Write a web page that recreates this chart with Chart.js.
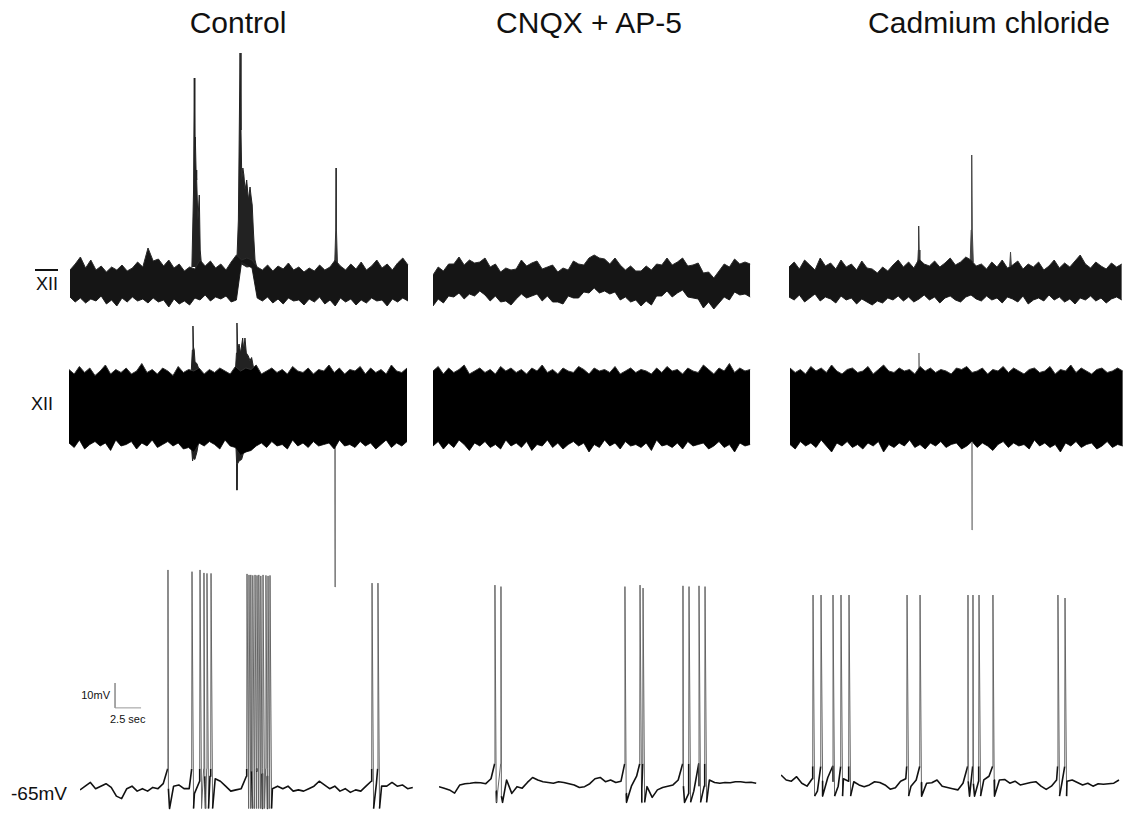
<!DOCTYPE html>
<html>
<head>
<meta charset="utf-8">
<script src="https://cdn.jsdelivr.net/npm/chart.js@4.4.1/dist/chart.umd.min.js"></script>
<style>
  body { margin: 0; width: 1124px; height: 816px; background: #fff; position: relative; overflow: hidden;
         font-family: "Liberation Sans", Arial, sans-serif; color: #111; }
  canvas { position: absolute; }
  .lbl { position: absolute; line-height: 1; white-space: nowrap; }
</style>
</head>
<body>
<div class="lbl" style="left:238px;top:7.6px;font-size:30px;transform:translateX(-50%)">Control</div>
<div class="lbl" style="left:589px;top:7.6px;font-size:30px;transform:translateX(-50%)">CNQX + AP-5</div>
<div class="lbl" style="left:989px;top:7.6px;font-size:30px;transform:translateX(-50%)">Cadmium chloride</div>
<div class="lbl" style="right:1066px;top:274.8px;font-size:18px">XII</div>
<div style="position:absolute;left:35px;top:269px;width:23px;height:1.5px;background:#111"></div>
<div class="lbl" style="right:1071px;top:394.8px;font-size:18px">XII</div>
<div class="lbl" style="right:1057px;top:784px;font-size:19px">-65mV</div>
<div class="lbl" style="right:1014px;top:689.7px;font-size:11px">10mV</div>
<div class="lbl" style="left:110px;top:713.7px;font-size:11px">2.5 sec</div>
<script>
// all traces sampled every half second (envelopes / membrane baseline)
const STEP = 0.5
const PX_PER_SEC = 10.4

// ---- integrated XII (arbitrary units, 0 = trace floor) ----
let ctlIntUp = [4.0,4.6,5.3,4.2,5.0,4.0,4.4,3.8,4.3,4.0,4.5,3.9,4.2,4.8,4.3,6.2,4.9,5.1,4.4,5.0,4.2,4.6,3.9,4.3,4.1,5.0,4.4,4.9,4.2,4.6,4.0,4.8,5.5,5.0,5.2,5.0,4.3,4.0,4.5,3.9,4.4,4.1,4.7,4.0,4.3,3.8,4.2,3.9,4.5,4.0,4.3,5.0,4.4,4.0,4.6,4.1,4.8,4.0,4.4,5.0,4.2,4.6,4.0,4.7,5.2,4.5]
let ctlIntLo = [1.3,0.8,1.2,0.7,1.1,0.9,1.4,0.6,1.0,0.4,1.2,0.8,1.3,0.9,1.1,0.7,1.2,0.8,1.0,0.3,1.1,0.6,0.9,0.5,1.2,1.0,1.5,0.9,1.3,1.1,1.4,0.8,1.0,4.8,4.5,4.2,1.2,0.9,1.3,0.7,1.1,0.6,1.2,0.9,1.0,0.5,1.1,0.8,1.3,0.6,1.0,0.4,1.2,0.8,1.1,0.5,1.0,0.7,1.2,0.9,1.0,0.4,1.1,0.8,1.2,0.9]
let ctlIntBurst1 = [[11.72,4.3],[11.88,12],[11.95,23.2],[12.0,16],[12.05,17.3],[12.12,14],[12.18,13],[12.3,9],[12.43,11.5],[12.52,6],[12.66,4.3]]
let ctlIntBurst2 = [[16.03,4.5],[16.19,9],[16.35,25.7],[16.44,18],[16.52,13],[16.62,14.2],[16.72,13.5],[16.83,12],[16.99,13],[17.15,11],[17.31,12.3],[17.42,11.3],[17.52,10.5],[17.63,8],[17.79,5],[17.95,4.3],[17.6,4.4],[17.0,4.3],[16.5,4.6],[16.2,4.4]]
let ctlIntBurst3 = [[25.45,4.5],[25.55,8],[25.58,14.2],[25.62,8],[25.72,4.5]]

let cnqIntUp = [3.5,4.3,3.9,4.6,4.6,5.3,4.5,5.0,4.7,4.8,5.2,4.3,4.6,3.8,4.2,4.0,4.1,5.0,4.4,4.7,4.9,4.1,4.3,4.5,3.8,4.2,4.0,4.9,4.6,4.5,5.2,5.5,5.2,5.1,4.6,5.2,4.5,4.0,4.4,3.9,3.9,4.4,4.0,4.6,4.5,5.2,4.5,4.8,5.2,4.4,4.5,4.7,3.7,3.8,3.2,3.9,4.6,4.3,5.1,4.6,4.8,4.6]
let cnqIntLo = [0.4,1.1,0.7,1.4,1.3,1.7,1.1,1.6,1.4,1.9,1.5,0.9,1.4,0.8,0.9,0.5,1.1,1.6,1.2,1.4,1.6,0.9,1.4,0.8,0.8,0.6,1.4,1.2,1.2,1.8,1.7,2.2,1.7,1.9,1.6,1.8,1.0,1.3,0.8,1.0,0.4,0.9,0.5,1.4,1.4,1.9,1.3,1.7,2.0,1.3,1.2,1.1,0.2,0.8,0.1,0.7,1.3,1.0,1.8,1.5,1.6,1.3]

let cdIntUp = [4.3,4.8,4.1,5.0,4.5,4.0,5.2,4.4,4.7,4.1,5.0,4.3,4.6,4.0,4.9,4.2,4.1,3.7,4.3,3.9,4.5,5.0,4.3,4.8,4.2,5.1,4.6,4.4,4.9,4.3,4.7,5.2,4.5,4.8,5.3,5.0,4.4,4.6,4.1,4.8,4.3,5.0,4.2,4.5,4.9,4.1,4.6,4.3,4.8,4.0,4.4,5.0,4.2,4.7,4.3,4.9,5.5,4.6,4.2,4.8,4.4,4.1,4.7,4.3,4.6]
let cdIntLo = [1.3,1.0,1.5,0.8,1.2,1.6,0.9,1.3,1.1,0.7,1.4,1.0,1.2,0.6,1.1,0.8,0.5,0.9,0.7,1.2,1.0,1.4,0.9,1.3,0.8,1.1,1.5,1.0,1.3,0.7,1.2,1.4,1.0,0.8,1.3,1.5,1.1,0.9,1.4,1.0,1.2,0.7,1.3,1.1,0.8,1.4,0.6,1.0,1.2,0.9,1.5,1.0,1.3,0.8,1.1,0.6,1.2,1.0,1.4,0.9,1.2,0.7,1.1,1.3,1.0]
let cdIntSpike1 = [[12.37,4.5],[12.44,6],[12.47,8.4],[12.51,6],[12.58,4.5]]
let cdIntSpike2 = [[17.42,4.8],[17.52,8],[17.57,15.5],[17.62,8],[17.72,4.8]]
let cdIntSpike3 = [[21.22,4.4],[21.3,5.8],[21.38,4.4]]

// ---- raw XII (arbitrary units, 0 = trace centre) ----
let ctlRawUp = [1.25,1.1,1.35,1.15,1.3,1.05,1.2,1.4,1.1,1.25,1.15,1.3,1.1,1.2,1.45,1.15,1.25,1.1,1.3,1.2,1.05,1.35,1.15,1.25,1.2,1.3,1.1,1.25,1.15,1.3,1.2,1.1,1.35,1.2,1.3,1.25,1.4,1.1,1.2,1.3,1.15,1.25,1.1,1.35,1.2,1.15,1.3,1.1,1.25,1.2,1.4,1.15,1.3,1.1,1.25,1.2,1.35,1.1,1.3,1.15,1.25,1.1,1.4,1.2,1.15,1.3]
let ctlRawLo = [-1.2,-1.35,-1.1,-1.4,-1.25,-1.15,-1.3,-1.2,-1.45,-1.1,-1.3,-1.25,-1.15,-1.4,-1.2,-1.3,-1.1,-1.35,-1.25,-1.15,-1.3,-1.2,-1.4,-1.35,-1.5,-1.2,-1.3,-1.15,-1.25,-1.4,-1.1,-1.3,-1.35,-1.6,-1.5,-1.45,-1.3,-1.2,-1.35,-1.15,-1.3,-1.25,-1.4,-1.1,-1.3,-1.2,-1.35,-1.15,-1.3,-1.25,-1.2,-1.4,-1.1,-1.3,-1.25,-1.35,-1.15,-1.3,-1.2,-1.4,-1.25,-1.1,-1.35,-1.2,-1.3,-1.15]
let ctlRawUp1 = [[11.75,1.15],[11.86,1.9],[11.92,2.7],[11.97,2.0],[12.04,1.9],[12.12,1.5],[12.3,1.45],[12.45,1.3],[12.55,1.1]]
let ctlRawDown1 = [[11.75,-1.2],[11.88,-1.8],[11.95,-1.7],[12.1,-1.75],[12.3,-1.5],[12.45,-1.2]]
let ctlRawUp2 = [[16.0,1.2],[16.1,1.8],[16.15,2.8],[16.22,1.9],[16.35,2.1],[16.5,1.8],[16.7,2.3],[16.8,1.9],[16.92,2.3],[17.05,1.8],[17.24,1.7],[17.4,1.55],[17.56,1.65],[17.75,1.3],[17.9,1.1]]
let ctlRawDown2 = [[16.05,-1.3],[16.12,-1.9],[16.15,-2.77],[16.2,-1.9],[16.35,-1.8],[16.6,-1.75],[16.8,-1.5],[17.0,-1.5],[17.2,-1.3]]
let ctlRawDown3 = [[25.56,-1.2],[25.58,-6.0],[25.6,-1.2]]

let cnqRawUp = [1.2,1.35,1.1,1.3,1.15,1.25,1.4,1.1,1.2,1.3,1.15,1.25,1.1,1.35,1.2,1.3,1.15,1.25,1.1,1.3,1.2,1.4,1.15,1.25,1.1,1.3,1.2,1.15,1.35,1.25,1.1,1.3,1.2,1.25,1.15,1.35,1.1,1.2,1.3,1.15,1.25,1.2,1.1,1.3,1.15,1.35,1.2,1.25,1.1,1.3,1.2,1.15,1.4,1.25,1.1,1.3,1.2,1.45,1.15,1.3,1.2,1.25]
let cnqRawLo = [-1.3,-1.15,-1.4,-1.2,-1.35,-1.1,-1.25,-1.45,-1.2,-1.3,-1.15,-1.35,-1.25,-1.4,-1.1,-1.3,-1.2,-1.35,-1.15,-1.45,-1.25,-1.3,-1.1,-1.35,-1.2,-1.4,-1.25,-1.15,-1.3,-1.2,-1.5,-1.25,-1.35,-1.1,-1.3,-1.2,-1.4,-1.15,-1.3,-1.25,-1.35,-1.2,-1.45,-1.1,-1.3,-1.25,-1.35,-1.2,-1.4,-1.15,-1.3,-1.25,-1.2,-1.4,-1.3,-1.15,-1.35,-1.25,-1.5,-1.2,-1.3,-1.25]

let cdRawUp = [1.3,1.15,1.25,1.1,1.35,1.2,1.3,1.15,1.4,1.2,1.1,1.25,1.3,1.15,1.2,1.35,1.1,1.25,1.4,1.2,1.15,1.3,1.2,1.25,1.1,1.35,1.2,1.3,1.15,1.25,1.2,1.1,1.3,1.25,1.35,1.15,1.2,1.3,1.1,1.25,1.2,1.35,1.15,1.3,1.2,1.1,1.25,1.3,1.15,1.2,1.35,1.1,1.25,1.2,1.4,1.15,1.3,1.2,1.1,1.25,1.3,1.15,1.2,1.3,1.2]
let cdRawLo = [-1.25,-1.4,-1.15,-1.3,-1.2,-1.35,-1.1,-1.3,-1.5,-1.2,-1.3,-1.15,-1.35,-1.25,-1.4,-1.2,-1.3,-1.15,-1.5,-1.25,-1.35,-1.2,-1.3,-1.1,-1.35,-1.25,-1.4,-1.2,-1.3,-1.15,-1.35,-1.25,-1.2,-1.4,-1.3,-1.15,-1.35,-1.2,-1.3,-1.45,-1.25,-1.15,-1.35,-1.2,-1.3,-1.25,-1.4,-1.1,-1.3,-1.2,-1.35,-1.25,-1.5,-1.2,-1.3,-1.15,-1.35,-1.25,-1.2,-1.4,-1.3,-1.15,-1.35,-1.25,-1.3]
let cdRawUp1 = [[12.37,1.2],[12.4,1.8],[12.43,1.2]]
let cdRawDown1 = [[17.48,-1.2],[17.5,-4.1],[17.52,-1.2]]

// ---- intracellular membrane potential (mV) ----
let ctlVm = [-63.5,-62,-60.5,-63,-62,-61,-62.5,-66,-67,-63,-62,-64,-63,-64,-62.5,-63,-61,-63,-62,-61.5,-63,-63,-65,-60,-58,-58,-59,-60,-62,-64,-63.5,-63,-58,-56,-56,-57,-58,-63,-62,-63,-62,-64,-63.5,-64,-63,-62,-60,-61.5,-63,-62,-64,-63,-64.5,-63.5,-64,-62,-60,-61,-62,-62,-60.5,-62,-61.5,-63,-62.5]
let ctlSpikes = [8.46,10.77,11.54,11.92,12.21,12.60,16.06,16.25,16.44,16.63,16.83,17.02,17.21,17.40,17.60,17.88,18.08,18.27,28.08,28.65]
let ctlPeaks = [25,24.3,25,23.8,23.6,23.6,23.4,23,23,22.8,23,22.8,23,22.6,23,22.8,22.6,22.8,19.7,19.7]
let cnqVm = [-62.2,-62.8,-63.5,-64.8,-61.5,-61,-60.8,-60.5,-60.6,-61,-59,-64,-66,-59.5,-64.9,-62.2,-62.8,-60.5,-58.5,-59.5,-60.2,-60.5,-60.8,-60.2,-60.5,-61,-61.5,-62.5,-62.2,-61,-59,-58.5,-60.2,-59.5,-60.5,-60,-65,-62,-58,-63,-62.2,-66.5,-63.5,-62.5,-62,-61.5,-59.5,-62,-65,-64,-62,-62,-59.5,-60.5,-60.8,-60.5,-60.6,-60.2,-60.2,-60.5,-60.4,-60.8]
let cnqSpikes = [5.38,5.96,17.88,19.33,19.62,23.46,24.04,25.0,25.58]
let cnqPeaks = [18.9,18.3,18.3,18.9,17.7,18.6,18.3,18.6,18.3]
let cdVm = [-57.5,-59.5,-60,-58.2,-60.8,-62,-59,-64,-60,-58.5,-60,-62,-59,-60,-60.2,-61.5,-62.2,-61.5,-60.2,-60.5,-61.5,-63.2,-62.6,-60,-59,-62,-59.5,-60.5,-60.8,-60.6,-59.5,-62,-62.5,-63,-63.5,-60.8,-60,-61,-60,-59.5,-58,-59.5,-59.5,-59.3,-60.8,-60,-61.5,-61,-60.5,-60.2,-62,-63.3,-62,-59.5,-61,-60,-59.5,-60.5,-61.5,-60.8,-62,-61,-61.2,-61,-60.8,-59.5]
let cdSpikes = [3.08,3.85,5.0,5.77,6.54,12.12,13.37,17.98,18.46,19.04,20.38,26.63,27.31]
let cdPeaks = [14.9,14.9,14.9,14.9,14.9,14.9,14.9,14.9,14.9,14.9,14.9,14.9,13.7]
// spike threshold and after-hyperpolarisation trough per cell (mV)
let ctlThr = -55, ctlAhp = -71
let cnqThr = -53, cnqAhp = -68.5
let cdThr = -54, cdAhp = -66

// calibration bar
const SCALE_MV = 10
const SCALE_SEC = 2.5
const SCALE_AT = [3.37, -30.5]

function series(vals) { return vals.map((v, i) => ({ x: i * STEP, y: v })) }
function pts(list) { return list.map(p => ({ x: p[0], y: p[1] })) }

function band(up, lo, fillCol, lineCol) {
  return [
    { data: series(up), borderColor: lineCol, borderWidth: 1, backgroundColor: fillCol, fill: '+1' },
    { data: series(lo), borderColor: lineCol, borderWidth: 1, fill: false }
  ]
}
function blip(list, col) {
  return { data: pts(list), borderColor: col, borderWidth: 1, backgroundColor: col, fill: 'shape' }
}
function cell(vm, spikes, peaks, thr, ahp) {
  let p = series(vm)
  spikes.forEach((t, i) => {
    p.push({ x: t - 0.03, y: thr }, { x: t, y: peaks[i] }, { x: t + 0.15, y: ahp })
  })
  p.sort((a, b) => a.x - b.x)
  let steep = ctx => Math.abs(ctx.p1.parsed.y - ctx.p0.parsed.y) > 15
  return {
    data: p, borderColor: '#111', borderWidth: 1.6, borderJoinStyle: 'round', fill: false,
    segment: { borderColor: ctx => steep(ctx) ? '#666' : '#111', borderWidth: ctx => steep(ctx) ? 1 : 1.6 }
  }
}

function panel(left, top, width, height, ymin, ymax, datasets) {
  let c = document.createElement('canvas')
  c.width = width; c.height = height
  c.style.left = left + 'px'; c.style.top = top + 'px'
  document.body.appendChild(c)
  return new Chart(c, {
    type: 'line',
    data: { datasets: datasets },
    options: {
      responsive: false, animation: false, events: [], devicePixelRatio: 1,
      layout: { padding: 0 },
      elements: { point: { radius: 0 }, line: { tension: 0 } },
      plugins: { legend: { display: false }, tooltip: { enabled: false } },
      scales: {
        x: { type: 'linear', min: 0, max: width / PX_PER_SEC, display: false },
        y: { type: 'linear', min: ymin, max: ymax, display: false }
      }
    }
  })
}

// row 1: integrated XII
const INT_FILL = '#151515', INT_LINE = '#2b2b2b'
panel(70, 40, 339, 280, -1, 27, [
  ...band(ctlIntUp, ctlIntLo, INT_FILL, INT_LINE),
  blip(ctlIntBurst1, '#222'), blip(ctlIntBurst2, '#222'), blip(ctlIntBurst3, '#333')
])
panel(433, 40, 320, 280, -1, 27, band(cnqIntUp, cnqIntLo, INT_FILL, INT_LINE))
panel(789, 40, 335, 280, -1, 27, [
  ...band(cdIntUp, cdIntLo, INT_FILL, INT_LINE),
  blip(cdIntSpike1, '#333'), blip(cdIntSpike2, '#444'), blip(cdIntSpike3, '#444')
])

// row 2: raw XII
const RAW_FILL = '#000', RAW_LINE = '#333'
panel(69, 300, 339, 300, -6.433, 3.567, [
  ...band(ctlRawUp, ctlRawLo, RAW_FILL, RAW_LINE),
  blip(ctlRawUp1, '#222'), blip(ctlRawDown1, '#222'), blip(ctlRawUp2, '#222'), blip(ctlRawDown2, '#222'),
  blip(ctlRawDown3, '#777')
])
panel(433, 300, 320, 300, -6.433, 3.567, band(cnqRawUp, cnqRawLo, RAW_FILL, RAW_LINE))
panel(790, 300, 334, 300, -6.433, 3.567, [
  ...band(cdRawUp, cdRawLo, RAW_FILL, RAW_LINE),
  blip(cdRawUp1, '#777'), blip(cdRawDown1, '#888')
])

// row 3: intracellular
panel(80, 560, 337, 256, -74, 29, [
  cell(ctlVm, ctlSpikes, ctlPeaks, ctlThr, ctlAhp),
  { data: pts([[SCALE_AT[0], SCALE_AT[1] + SCALE_MV], SCALE_AT, [SCALE_AT[0] + SCALE_SEC, SCALE_AT[1]]]),
    borderColor: '#999', borderWidth: 1, fill: false }
])
panel(439, 560, 319, 256, -74, 29, [cell(cnqVm, cnqSpikes, cnqPeaks, cnqThr, cnqAhp)])
panel(781, 560, 340, 256, -74, 29, [cell(cdVm, cdSpikes, cdPeaks, cdThr, cdAhp)])
</script>
</body>
</html>
